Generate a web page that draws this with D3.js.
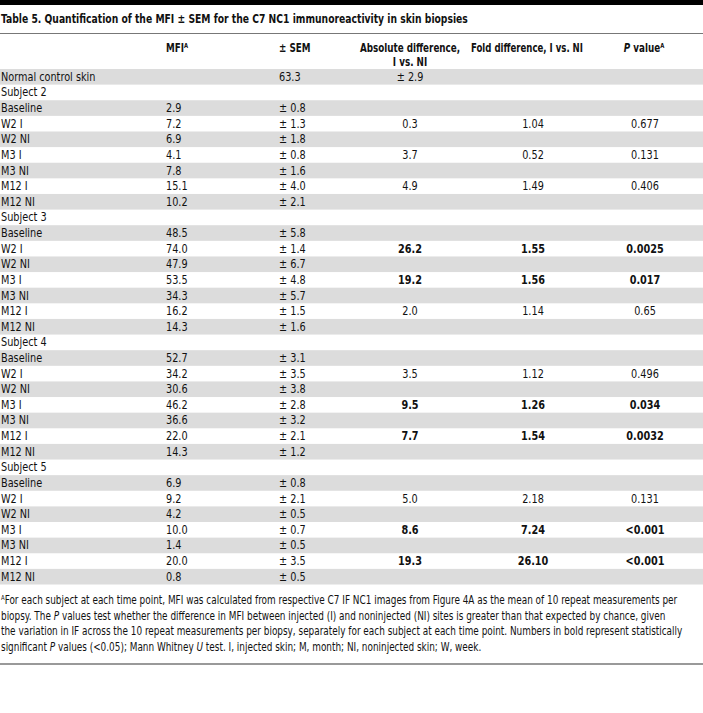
<!DOCTYPE html>
<html>
<head>
<meta charset="utf-8">
<script src="https://cdn.jsdelivr.net/npm/d3@7"></script>
<style>
  html, body { margin: 0; padding: 0; background: #fff; }
  svg { display: block; }
  text { font-family: "DejaVu Sans Condensed", "DejaVu Sans", sans-serif; fill: #111; }
</style>
</head>
<body>
<svg id="chart" width="703" height="713"></svg>
<script>
const title = "Table 5. Quantification of the MFI \u00B1 SEM for the C7 NC1 immunoreactivity in skin biopsies";

const columns = ["label", "mfi", "sem", "abs", "fold", "p"];

const rowLabels = ["Normal control skin",
  "Subject 2", "Baseline", "W2 I", "W2 NI", "M3 I", "M3 NI", "M12 I", "M12 NI",
  "Subject 3", "Baseline", "W2 I", "W2 NI", "M3 I", "M3 NI", "M12 I", "M12 NI",
  "Subject 4", "Baseline", "W2 I", "W2 NI", "M3 I", "M3 NI", "M12 I", "M12 NI",
  "Subject 5", "Baseline", "W2 I", "W2 NI", "M3 I", "M3 NI", "M12 I", "M12 NI"];

const mfi = ["",
  "", "2.9", "7.2", "6.9", "4.1", "7.8", "15.1", "10.2",
  "", "48.5", "74.0", "47.9", "53.5", "34.3", "16.2", "14.3",
  "", "52.7", "34.2", "30.6", "46.2", "36.6", "22.0", "14.3",
  "", "6.9", "9.2", "4.2", "10.0", "1.4", "20.0", "0.8"];

const sem = ["63.3",
  "", "\u00B1 0.8", "\u00B1 1.3", "\u00B1 1.8", "\u00B1 0.8", "\u00B1 1.6", "\u00B1 4.0", "\u00B1 2.1",
  "", "\u00B1 5.8", "\u00B1 1.4", "\u00B1 6.7", "\u00B1 4.8", "\u00B1 5.7", "\u00B1 1.5", "\u00B1 1.6",
  "", "\u00B1 3.1", "\u00B1 3.5", "\u00B1 3.8", "\u00B1 2.8", "\u00B1 3.2", "\u00B1 2.1", "\u00B1 1.2",
  "", "\u00B1 0.8", "\u00B1 2.1", "\u00B1 0.5", "\u00B1 0.7", "\u00B1 0.5", "\u00B1 3.5", "\u00B1 0.5"];

const absDiff = ["\u00B1 2.9",
  "", "", "0.3", "", "3.7", "", "4.9", "",
  "", "", "26.2", "", "19.2", "", "2.0", "",
  "", "", "3.5", "", "9.5", "", "7.7", "",
  "", "", "5.0", "", "8.6", "", "19.3", ""];

const foldDiff = ["",
  "", "", "1.04", "", "0.52", "", "1.49", "",
  "", "", "1.55", "", "1.56", "", "1.14", "",
  "", "", "1.12", "", "1.26", "", "1.54", "",
  "", "", "2.18", "", "7.24", "", "26.10", ""];

const pValues = ["",
  "", "", "0.677", "", "0.131", "", "0.406", "",
  "", "", "0.0025", "", "0.017", "", "0.65", "",
  "", "", "0.496", "", "0.034", "", "0.0032", "",
  "", "", "0.131", "", "<0.001", "", "<0.001", ""];

// rows (by index) whose difference / fold / P values are printed in bold
const boldRows = [11, 13, 21, 23, 29, 31];

const footnote = [
  "For each subject at each time point, MFI was calculated from respective C7 IF NC1 images from Figure 4A as the mean of 10 repeat measurements per",
  "biopsy. The |P| values test whether the difference in MFI between injected (I) and noninjected (NI) sites is greater than that expected by chance, given",
  "the variation in IF across the 10 repeat measurements per biopsy, separately for each subject at each time point. Numbers in bold represent statistically",
  "significant |P| values (<0.05); Mann Whitney |U| test. I, injected skin; M, month; NI, noninjected skin; W, week."
];

const svg = d3.select("#chart");
const W = 703;

// text helper: condensed look via horizontal scale around the anchor point
function txt(parent, x, yy, sx) {
  return parent.append("text").attr("transform", `translate(${x},${yy}) scale(${sx},1)`);
}
function sup(sel, t) { sel.append("tspan").attr("font-size", "0.6em").attr("dy", -4).text(t); }

// top black bar
svg.append("rect").attr("x", 0).attr("y", 0).attr("width", W).attr("height", 5).attr("fill", "#000");

txt(svg, 1, 23, 0.82).attr("font-size", 12.5).attr("font-weight", "bold").text(title);
svg.append("line").attr("x1", 0).attr("x2", W).attr("y1", 33.5).attr("y2", 33.5).attr("stroke", "#777").attr("stroke-width", 1);

const y = d3.scaleBand().domain(d3.range(rowLabels.length)).range([69, 584.5]).padding(0);

// column x positions and anchors
const colX = d3.scaleOrdinal().domain(columns).range([1, 166, 279, 410, 533, 645]);
const colAnchor = d3.scaleOrdinal().domain(columns).range(["start", "start", "start", "middle", "middle", "middle"]);

// header
const hdr = svg.append("g").attr("font-size", 11.5).attr("font-weight", "bold");
const h1 = 52, hs = 0.85;
let t = txt(hdr, colX("mfi"), h1, hs);
t.append("tspan").text("MFI"); sup(t, "A");
txt(hdr, colX("sem"), h1, hs).text("\u00B1 SEM");
txt(hdr, colX("abs"), h1, hs).attr("text-anchor", "middle").text("Absolute difference,");
txt(hdr, colX("abs"), h1 + 14, hs).attr("text-anchor", "middle").text("I vs. NI");
txt(hdr, 527, h1, 0.83).attr("text-anchor", "middle").text("Fold difference, I vs. NI");
t = txt(hdr, 644, h1, hs).attr("text-anchor", "middle");
t.append("tspan").attr("font-style", "italic").text("P");
t.append("tspan").text(" value"); sup(t, "A");

// body rows
const rows = d3.range(rowLabels.length).map(i => ({
  i, label: rowLabels[i], mfi: mfi[i], sem: sem[i], abs: absDiff[i], fold: foldDiff[i], p: pValues[i]
}));

const g = svg.append("g");
g.selectAll("rect.band").data(rows.filter(r => r.i % 2 === 0)).join("rect")
  .attr("class", "band")
  .attr("x", 0).attr("width", W)
  .attr("y", d => y(d.i)).attr("height", y.bandwidth())
  .attr("fill", "#dcdcdc");

const rowG = g.selectAll("g.row").data(rows).join("g")
  .attr("class", "row")
  .attr("transform", d => `translate(0,${y(d.i) + y.bandwidth() / 2 + 4})`);

columns.forEach(c => {
  rowG.append("text")
    .attr("transform", `translate(${colX(c)},0) scale(0.9,1)`)
    .attr("text-anchor", colAnchor(c))
    .attr("font-size", 12)
    .attr("font-weight", d => (["abs", "fold", "p"].includes(c) && boldRows.includes(d.i)) ? "bold" : "normal")
    .text(d => d[c]);
});

// footnote
const fn = svg.append("g").attr("font-size", 11.5);
footnote.forEach((line, k) => {
  const tx = txt(fn, 1, 604 + k * 15.5, 0.86);
  const parts = line.split("|");
  if (k === 0) sup(tx, "A");
  parts.forEach((part, j) => {
    const ts = tx.append("tspan").attr("font-style", j % 2 === 1 ? "italic" : "normal").text(part);
    if (k === 0 && j === 0) ts.attr("dy", 4);
  });
});

svg.append("line").attr("x1", 0).attr("x2", W).attr("y1", 664).attr("y2", 664).attr("stroke", "#999").attr("stroke-width", 2);
</script>
</body>
</html>
